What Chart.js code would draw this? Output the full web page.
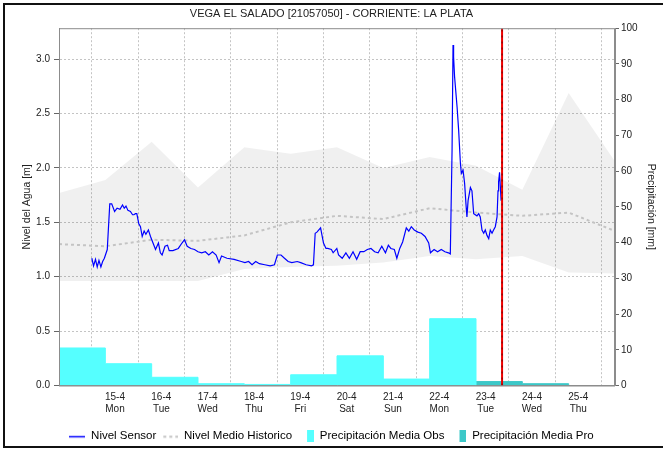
<!DOCTYPE html>
<html lang="es">
<head>
  <meta charset="UTF-8">
  <title>VEGA EL SALADO - Nivel</title>
  <script src="https://cdn.jsdelivr.net/npm/chart.js"></script>
  <style>
    html, body { margin: 0; padding: 0; background: #fff; overflow: hidden; }
    #wrap { position: relative; width: 663px; height: 449px; }
    #frame { position: absolute; left: 3px; top: 3px; width: 700px; height: 441px; border: 2px solid #111; pointer-events: none; }
    #chart { position: absolute; left: 0; top: 0; }
  </style>
</head>
<body>
<div id="wrap">
  <canvas id="chart" width="663" height="452"></canvas>
  <div id="frame"></div>
</div>
<script>
  // horas contadas desde el 14-4 00:00
  const xMin = 7, xMax = 295;
  const dayLabels = ['15-4','16-4','17-4','18-4','19-4','20-4','21-4','22-4','23-4','24-4','25-4'];
  const weekdays  = ['Mon','Tue','Wed','Thu','Fri','Sat','Sun','Mon','Tue','Wed','Thu'];
  const dayNoon   = [36, 60, 84, 108, 132, 156, 180, 204, 228, 252, 276];
  const midnights = [24, 48, 72, 96, 120, 144, 168, 192, 216, 240, 264, 288];
  const nowHour = 236.5;

  const sensorHour = [24,24.9,25.9,26.8,27.7,28.7,29.6,30.5,32,33.3,34.3,35.8,37.1,38.6,39.9,40.8,41.7,42.7,44,45.1,45.8,46.6,47.3,48.3,49.2,50.1,51.1,52,53.3,54.4,55.7,57,58.5,59.5,60.4,61.9,63.2,64.1,66,68.8,70.7,72,73.4,75.3,77.2,79,80.9,82.8,84.6,86.5,88.4,89.9,91.2,94,97.7,101.4,103.3,105.2,107,108.9,110.8,113.6,116.4,118.6,120.1,122,123.8,125.7,127.6,130.4,132.2,135,137.8,138.8,139.7,140.6,142.5,144,145.3,146.2,148.1,149,150.9,151.8,153.7,155.6,157.4,159.3,161.2,163,164.9,166.7,168.6,170.5,172.3,174.2,176.1,177.6,178.9,180.7,182,183.5,185,186.9,188.2,189.5,191,192.9,194.7,196.6,198.5,199.4,201.3,203.1,205,206.9,208.7,209.7,210.6,211.1,211.4,211.9,213.2,214,214.9,215.4,216.3,217.1,217.8,218.3,218.9,220.1,220.9,221.8,223.5,224.4,225.2,226.1,227,227.8,228.7,229.6,230.4,231.3,232.1,233,233.9,234.4,234.7,235.2,235.6,236];
  const sensorLevel = [1.17,1.10,1.16,1.09,1.15,1.09,1.14,1.17,1.25,1.67,1.67,1.60,1.63,1.62,1.66,1.63,1.65,1.61,1.60,1.57,1.57,1.58,1.58,1.49,1.46,1.37,1.42,1.39,1.43,1.37,1.31,1.25,1.31,1.22,1.20,1.28,1.29,1.24,1.24,1.26,1.31,1.34,1.28,1.26,1.25,1.23,1.22,1.23,1.20,1.23,1.20,1.13,1.19,1.17,1.16,1.14,1.13,1.14,1.11,1.14,1.12,1.11,1.10,1.11,1.20,1.20,1.17,1.14,1.13,1.14,1.13,1.11,1.10,1.11,1.40,1.41,1.45,1.31,1.26,1.26,1.25,1.22,1.26,1.20,1.17,1.22,1.17,1.23,1.16,1.23,1.23,1.25,1.26,1.23,1.22,1.28,1.22,1.29,1.26,1.25,1.17,1.26,1.32,1.45,1.42,1.46,1.43,1.41,1.40,1.37,1.31,1.22,1.25,1.23,1.25,1.23,1.22,1.21,2.16,3.13,3.02,2.84,2.56,2.35,2.05,1.95,1.98,1.86,1.67,1.55,1.70,1.82,1.79,1.58,1.56,1.58,1.55,1.43,1.40,1.43,1.38,1.35,1.43,1.40,1.43,1.46,1.55,1.79,1.87,1.96,1.83,1.70];

  const histHour  = [7, 31, 55, 79, 103, 127, 151, 175, 199, 223, 247, 271, 295];
  const histUpper = [1.77,1.89,2.24,1.82,2.19,2.13,2.19,2.00,2.10,2.02,1.80,2.69,2.06];
  const histLower = [0.96,0.96,0.96,0.96,1.07,1.09,1.10,1.13,1.19,1.16,1.19,1.04,1.03];
  const histMean  = [1.30,1.28,1.34,1.33,1.38,1.50,1.56,1.53,1.63,1.59,1.56,1.59,1.42];

  const obsStart = [7, 31, 55, 79, 103, 127, 151, 175, 199];
  const obsMm    = [10.5, 6.1, 2.3, 0.5, 0.3, 3.0, 8.3, 1.8, 18.7];
  const proStart = [223, 247];
  const proMm    = [1.1, 0.5];
  const binHours = 24;

  const pts = (xs, ys) => xs.map((x, i) => ({x: x, y: ys[i]}));
  function steps(starts, vals) {
    const p = pts(starts, vals);
    p.push({x: starts[starts.length - 1] + binHours, y: 0});
    return p;
  }

  function icon(draw) {
    const c = document.createElement('canvas');
    c.width = 16; c.height = 12;
    draw(c.getContext('2d'));
    return c;
  }
  const legendItems = [
    {text: 'Nivel Sensor', pointStyle: icon(g => { g.strokeStyle = '#0000ff'; g.lineWidth = 1.5; g.beginPath(); g.moveTo(0, 6.5); g.lineTo(16, 6.5); g.stroke(); })},
    {text: 'Nivel Medio Historico', pointStyle: icon(g => { g.strokeStyle = '#c4c4c4'; g.lineWidth = 2; g.setLineDash([3, 3]); g.beginPath(); g.moveTo(1, 6.5); g.lineTo(16, 6.5); g.stroke(); })},
    {text: 'Precipitación Media Obs', pointStyle: icon(g => { g.fillStyle = '#55ffff'; g.fillRect(9, 0, 7, 12); })},
    {text: 'Precipitación Media Pro', pointStyle: icon(g => { g.fillStyle = '#3cc8c8'; g.fillRect(9, 0, 7, 12); })}
  ];

  const frame = {
    id: 'frame',
    afterDraw(chart) {
      const a = chart.chartArea, ctx = chart.ctx;
      ctx.save();
      ctx.strokeStyle = '#8c8c8c';
      ctx.lineWidth = 1;
      ctx.strokeRect(a.left + 0.5, a.top + 0.5, a.right - a.left - 1, a.bottom - a.top);
      ctx.restore();
    }
  };

  const font = 'Liberation Sans, Arial, sans-serif';
  const gridGray = '#c4c4c4';

  new Chart(document.getElementById('chart'), {
    type: 'line',
    data: {
      datasets: [
        {label: 'upper', data: pts(histHour, histUpper), yAxisID: 'y', borderWidth: 0, borderColor: 'rgba(0,0,0,0)',
          backgroundColor: 'rgba(0,0,0,0.06)', fill: '+1', pointRadius: 0, order: 6},
        {label: 'lower', data: pts(histHour, histLower), yAxisID: 'y', borderWidth: 0, borderColor: 'rgba(0,0,0,0)',
          fill: false, pointRadius: 0, order: 6},
        {label: 'Nivel Medio Historico', data: pts(histHour, histMean), yAxisID: 'y', borderColor: '#c4c4c4',
          borderWidth: 2, borderDash: [3, 3], fill: false, pointRadius: 0, order: 5},
        {label: 'Precipitación Media Obs', data: steps(obsStart, obsMm), yAxisID: 'y1', stepped: 'before',
          borderColor: '#55ffff', borderWidth: 1, backgroundColor: '#55ffff', fill: 'origin', pointRadius: 0, order: 4},
        {label: 'Precipitación Media Pro', data: steps(proStart, proMm), yAxisID: 'y1', stepped: 'before',
          borderColor: '#3cc8c8', borderWidth: 1, backgroundColor: '#3cc8c8', fill: 'origin', pointRadius: 0, order: 4},
        {label: 'Nivel Sensor', data: pts(sensorHour, sensorLevel), yAxisID: 'y', borderColor: '#0000ff',
          borderWidth: 1.2, fill: false, pointRadius: 0, order: 2},
        {label: 'now', data: [{x: nowHour, y: 0}, {x: nowHour, y: 100}], yAxisID: 'y1', borderColor: '#ee0000',
          borderWidth: 2, fill: false, pointRadius: 0, order: 1},
        {label: 'now2', data: [{x: nowHour, y: 0}, {x: nowHour, y: 100}], yAxisID: 'y1', borderColor: '#700000',
          borderWidth: 1, borderDash: [2, 4], fill: false, pointRadius: 0, order: 0}
      ]
    },
    options: {
      responsive: false,
      animation: false,
      layout: {padding: 0},
      plugins: {
        title: {display: true, text: 'VEGA EL SALADO [21057050] - CORRIENTE: LA PLATA', color: '#222',
          font: {family: font, size: 11, weight: 'normal'}, padding: {top: 7, bottom: 8}},
        legend: {
          position: 'bottom',
          labels: {
            usePointStyle: true, pointStyleWidth: 16, boxHeight: 12, padding: 6, color: '#222',
            font: {family: font, size: 11.5},
            generateLabels: () => legendItems.map(it => ({text: it.text, pointStyle: it.pointStyle, fillStyle: '#fff',
              strokeStyle: '#fff', lineWidth: 0, hidden: false}))
          }
        },
        tooltip: {enabled: false}
      },
      scales: {
        x: {
          type: 'linear', min: xMin, max: xMax,
          afterBuildTicks: s => { s.ticks = midnights.concat(dayNoon).sort((a, b) => a - b).map(v => ({value: v})); },
          afterFit: s => { s.height = 39; },
          grid: {color: c => (c.tick && midnights.includes(c.tick.value)) ? gridGray : 'rgba(0,0,0,0)', drawTicks: false},
          border: {display: true, color: '#8c8c8c', dash: [2, 2]},
          ticks: {
            autoSkip: false, maxRotation: 0, padding: 6, color: '#222', font: {family: font, size: 10},
            callback: v => { const i = dayNoon.indexOf(v); return i >= 0 ? [dayLabels[i], weekdays[i]] : ''; }
          }
        },
        y: {
          position: 'left', min: 0, max: 3.285,
          afterFit: s => { s.width = 59; },
          grid: {color: gridGray, tickColor: '#666', tickLength: 5, tickBorderDash: []},
          border: {display: true, color: '#8c8c8c', dash: [2, 2]},
          ticks: {stepSize: 0.5, includeBounds: false, padding: 4, color: '#222', font: {family: font, size: 10},
            callback: v => v.toFixed(1)},
          title: {display: true, text: 'Nivel del Agua [m]', color: '#222', font: {family: font, size: 10.5},
            padding: {top: 21, bottom: 0}}
        },
        y1: {
          position: 'right', min: 0, max: 100,
          afterFit: s => { s.width = 48; },
          grid: {drawOnChartArea: false, color: '#666', tickLength: 4},
          border: {display: true, color: '#8c8c8c'},
          ticks: {stepSize: 10, padding: 2, color: '#222', font: {family: font, size: 10}},
          title: {display: true, text: 'Precipitación [mm]', color: '#222', font: {family: font, size: 10.5},
            padding: {top: 6, bottom: 0}}
        }
      }
    },
    plugins: [frame]
  });
</script>
</body>
</html>
